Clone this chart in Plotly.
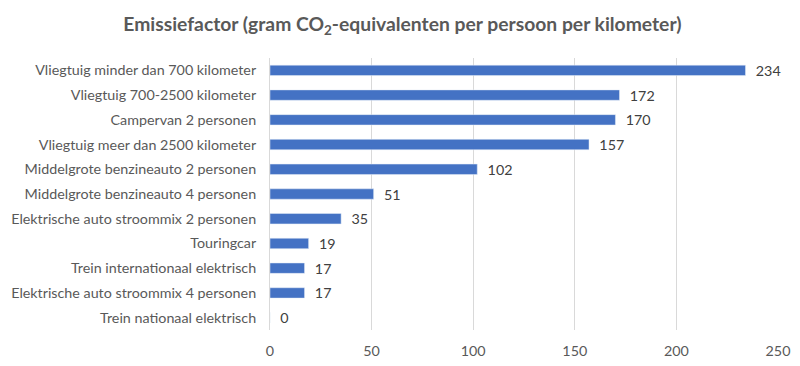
import plotly.graph_objects as go

categories = [
    "Vliegtuig minder dan 700 kilometer",
    "Vliegtuig 700-2500 kilometer",
    "Campervan 2 personen",
    "Vliegtuig meer dan 2500 kilometer",
    "Middelgrote benzineauto 2 personen",
    "Middelgrote benzineauto 4 personen",
    "Elektrische auto stroommix 2 personen",
    "Touringcar",
    "Trein internationaal elektrisch",
    "Elektrische auto stroommix 4 personen",
    "Trein nationaal elektrisch",
]
values = [234, 172, 170, 157, 102, 51, 35, 19, 17, 17, 0]
tick_vals = [0, 50, 100, 150, 200, 250]

font_family = "Lato, 'Open Sans', sans-serif"

# page body has an 8px default margin; size figure so plot lands as in reference
fig = go.Figure(
    go.Bar(
        x=values,
        y=categories,
        orientation="h",
        width=0.42,
        marker=dict(color="#4472C4"),
        text=["\u00a0\u00a0" + str(v) for v in values],
        textposition="outside",
        constraintext="none",
        textfont=dict(size=14.3, color="#404040", family=font_family),
        cliponaxis=False,
    )
)

fig.update_layout(
    width=792,
    height=358,
    margin=dict(l=262, r=22, t=50, b=36),
    paper_bgcolor="white",
    plot_bgcolor="white",
    title=dict(
        text="<b>Emissiefactor (gram CO<sub>2</sub>-equivalenten per persoon per kilometer)</b>",
        x=0.498,
        xanchor="center",
        y=0.955,
        yanchor="middle",
        font=dict(size=19.3, color="#595959", family=font_family),
    ),
    xaxis=dict(
        range=[0, 250],
        tickvals=tick_vals,
        showgrid=True,
        gridcolor="#d9d9d9",
        gridwidth=1,
        zeroline=False,
        showline=False,
        tickfont=dict(size=14.3, color="#595959", family=font_family),
        ticks="",
        ticklabelstandoff=11,
        automargin=False,
    ),
    yaxis=dict(
        autorange="reversed",
        showgrid=False,
        showline=True,
        linecolor="#d9d9d9",
        linewidth=1,
        ticks="",
        tickfont=dict(size=14.3, color="#595959", family=font_family),
        ticklabelstandoff=10,
        automargin=False,
    ),
    showlegend=False,
)

fig.write_html("out.html")
